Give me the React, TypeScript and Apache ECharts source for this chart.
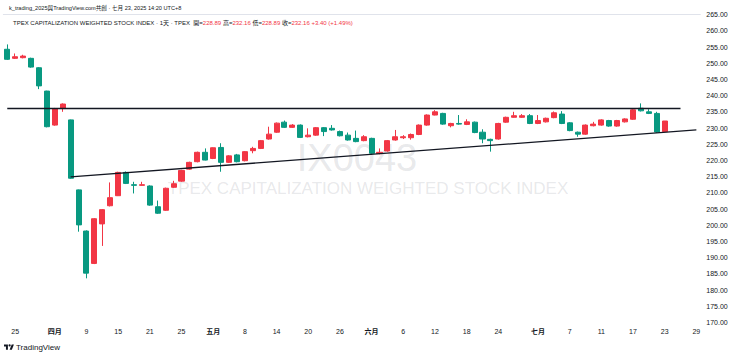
import React, { useEffect, useRef } from "react";
import * as echarts from "echarts";

const dates = [
  "2025-03-24","2025-03-25","2025-03-26","2025-03-27","2025-03-28","2025-03-31",
  "2025-04-01","2025-04-02","2025-04-07","2025-04-08","2025-04-09","2025-04-10","2025-04-11","2025-04-14","2025-04-15","2025-04-16","2025-04-17","2025-04-18","2025-04-21","2025-04-22","2025-04-23","2025-04-24","2025-04-25","2025-04-28","2025-04-29","2025-04-30",
  "2025-05-02","2025-05-05","2025-05-06","2025-05-07","2025-05-08","2025-05-09","2025-05-12","2025-05-13","2025-05-14","2025-05-15","2025-05-16","2025-05-19","2025-05-20","2025-05-21","2025-05-22","2025-05-23","2025-05-26","2025-05-27","2025-05-28","2025-05-29",
  "2025-06-02","2025-06-03","2025-06-04","2025-06-05","2025-06-06","2025-06-09","2025-06-10","2025-06-11","2025-06-12","2025-06-13","2025-06-16","2025-06-17","2025-06-18","2025-06-19","2025-06-20","2025-06-23","2025-06-24","2025-06-25","2025-06-26","2025-06-27","2025-06-30",
  "2025-07-01","2025-07-02","2025-07-03","2025-07-04","2025-07-07","2025-07-08","2025-07-09","2025-07-10","2025-07-11","2025-07-14","2025-07-15","2025-07-16","2025-07-17","2025-07-18","2025-07-21","2025-07-22","2025-07-23",
];
const futureDates = ["2025-07-24", "2025-07-25", "2025-07-28", "2025-07-29"];

const opens = [
  254.3,251.5,251.7,251.5,248.6,241.4,
  230.9,236.0,232.5,210.9,198.2,188.2,200.4,206.0,209.1,216.3,212.5,212.3,212.1,205.7,204.6,211.7,213.6,217.3,219.6,222.5,
  220.6,224.0,219.4,221.7,219.9,223.0,223.7,226.6,228.7,231.8,230.2,230.9,227.3,227.8,230.1,229.9,228.9,227.8,226.8,226.1,
  226.8,222.1,222.9,226.3,227.0,227.0,228.0,230.9,234.0,234.5,230.7,231.4,231.1,231.8,228.7,226.5,226.6,231.8,233.3,233.3,233.8,
  231.4,231.9,233.2,234.3,231.6,228.7,228.1,230.7,230.9,232.3,230.6,231.9,232.7,236.1,235.0,234.5,228.89,
];
const closes = [
  251.2,252.0,252.2,248.8,243.0,230.4,
  236.0,237.4,214.5,200.1,185.2,202.0,204.8,208.5,216.3,212.9,212.3,212.5,206.2,203.7,211.4,212.8,216.9,219.4,222.5,220.1,
  223.9,219.4,221.4,219.6,222.7,223.7,226.1,228.1,231.5,230.2,230.9,227.1,227.8,230.1,228.9,229.4,227.6,226.3,225.8,227.3,
  222.2,222.5,226.1,227.3,227.3,228.0,230.9,234.0,235.0,231.2,231.4,231.2,231.9,228.6,226.6,226.1,231.4,233.3,233.8,233.8,231.4,
  232.3,233.0,234.7,231.4,229.2,228.1,230.9,231.2,232.5,230.6,232.3,232.8,235.6,235.3,234.5,228.76,232.16,
];
const lows = [
  251.0,251.3,251.5,248.6,242.0,230.2,
  230.7,235.0,214.3,198.0,183.6,188.0,193.6,205.8,209.0,212.7,209.8,212.2,206.0,203.5,204.4,211.5,213.4,217.1,219.4,220.0,
  220.4,216.5,219.2,219.4,219.7,222.2,223.5,226.4,228.5,230.0,230.0,226.9,227.1,227.6,227.5,229.2,227.4,226.1,225.6,225.9,
  221.7,221.9,222.7,226.1,226.6,226.4,227.8,230.7,233.9,231.0,230.2,231.0,230.9,228.4,225.3,222.7,226.4,231.6,233.2,233.1,231.2,
  231.2,231.7,233.0,231.2,229.0,227.3,227.9,230.5,230.7,230.4,230.4,231.7,232.5,235.1,234.3,228.5,228.89,
];
const highs = [
  255.8,253.0,252.6,251.7,248.8,241.5,
  236.2,237.6,232.6,211.0,198.4,202.2,205.0,213.2,216.5,216.6,213.4,213.4,212.3,207.6,211.6,213.7,217.1,219.6,222.7,223.7,
  224.0,225.3,221.6,222.0,222.9,224.2,226.3,230.4,231.7,232.3,231.2,231.1,229.9,230.3,230.3,230.9,229.2,228.6,229.2,227.8,
  227.0,223.7,226.3,229.4,227.8,228.3,231.1,234.2,235.5,234.7,231.6,234.0,232.7,232.0,229.6,226.7,231.6,233.5,235.0,234.3,234.3,
  234.0,233.2,235.1,235.2,231.8,228.9,231.1,231.9,232.7,232.5,232.5,233.0,235.8,237.6,235.8,235.0,232.16,
];

const tickDates = ["2025-03-25","2025-04-01","2025-04-09","2025-04-15","2025-04-21","2025-04-25","2025-05-02","2025-05-08","2025-05-14","2025-05-20","2025-05-26","2025-06-02","2025-06-06","2025-06-12","2025-06-18","2025-06-24","2025-07-01","2025-07-07","2025-07-11","2025-07-17","2025-07-23","2025-07-29"];
const tickLabels = ["25","四月","9","15","21","25","五月","8","14","20","26","六月","6","12","18","24","七月","7","11","17","23","29"];

const resistanceDates = ["2025-03-24", "2025-07-25"];
const resistanceValues = [236.25, 236.25];
const supportDates = ["2025-04-07", "2025-07-29"];
const supportValues = [214.9, 229.4];

const yMin = 170;
const yMax = 265;
const yStep = 5;

const UP = "#F23645";
const DOWN = "#089981";
const INK = "#131722";
const FONT = "'Liberation Sans', 'Noto Sans CJK TC', sans-serif";

const logoD = "M14 22H7V11H0V4h14v18zM28 22h-8l7.5-18h8L28 22zM16 7a4 4 0 1 0 8 0a4 4 0 1 0 -8 0Z";

export default function App() {
  const ref = useRef<HTMLDivElement>(null);
  useEffect(() => {
    if (!ref.current) return;
    let logoOk = true;
    try {
      echarts.graphic.registerShape("tvlogo2", (echarts.graphic as any).extendPath(logoD, {}));
    } catch (e) {
      logoOk = false;
    }
    const chart = echarts.init(ref.current, undefined, { renderer: "svg" });
    const allDates = dates.concat(futureDates);
    const data = dates.map((d, i) => [opens[i], closes[i], lows[i], highs[i]]);
    const n = dates.length;
    const lastO = opens[n - 1], lastH = highs[n - 1], lastL = lows[n - 1], lastC = closes[n - 1];
    const chg = lastC - closes[n - 2];
    const pct = (chg / closes[n - 2]) * 100;
    const sign = chg >= 0 ? "+" : "";
    const tickMap: Record<string, string> = {};
    tickDates.forEach((d, i) => (tickMap[d] = tickLabels[i]));

    const line2 =
      "{n|TPEX CAPITALIZATION WEIGHTED STOCK INDEX · 1天 · TPEX}  " +
      `{k|開=}{v|${lastO.toFixed(2)}} {k|高=}{v|${lastH.toFixed(2)}} {k|低=}{v|${lastL.toFixed(2)}} {k|收=}{v|${lastC.toFixed(2)}} {v|${sign}${chg.toFixed(2)} (${sign}${pct.toFixed(2)}%)}`;

    const graphics: any[] = [
      {
        type: "text",
        x: 357,
        y: 158,
        z: 0,
        silent: true,
        style: { text: "IX0043", fontSize: 38, fontFamily: FONT, fill: "rgba(120,123,134,0.18)", align: "center", verticalAlign: "middle" },
      },
      {
        type: "text",
        x: 368,
        y: 188,
        z: 0,
        silent: true,
        style: { text: "TPEX CAPITALIZATION WEIGHTED STOCK INDEX", fontSize: 17, fontFamily: FONT, fill: "rgba(120,123,134,0.18)", align: "center", verticalAlign: "middle" },
      },
      {
        type: "text",
        x: 16,
        y: 347,
        style: { text: "TradingView", fontSize: 8, fontFamily: FONT, fill: INK, align: "left", verticalAlign: "middle" },
      },
    ];
    if (logoOk) {
      graphics.push({ type: "tvlogo2", x: 4, y: 343.5, scaleX: 0.28, scaleY: 0.28, style: { fill: INK } });
    }

    const plain = { color: INK, fontFamily: FONT, fontWeight: "normal" };
    chart.setOption({
      animation: false,
      textStyle: { fontFamily: FONT },
      title: [
        {
          text: "k_trading_2025與TradingView.com共創 · 七月 23, 2025 14:20 UTC+8",
          left: 4,
          top: 0,
          textStyle: { fontSize: 5.6, color: INK, fontWeight: "normal", fontFamily: FONT },
        },
        {
          text: line2,
          left: 8,
          top: 15,
          textStyle: {
            fontSize: 6,
            fontWeight: "normal",
            fontFamily: FONT,
            rich: {
              n: { ...plain, fontSize: 6 },
              k: { ...plain, fontSize: 6 },
              v: { ...plain, fontSize: 6, color: UP },
            },
          },
        },
      ],
      grid: { left: 3.3, right: 39.7, top: 14.6, bottom: 32.6 },
      xAxis: [
        {
          type: "category",
          data: allDates,
          boundaryGap: true,
          axisLine: { show: false },
          axisTick: { show: false },
          splitLine: { show: false },
          axisLabel: {
            interval: (i: number, v: string) => tickMap[v] !== undefined,
            formatter: (v: string) => {
              const t = tickMap[v];
              if (t === undefined) return "";
              return t.indexOf("月") >= 0 ? `{m|${t}}` : t;
            },
            fontSize: 7,
            color: INK,
            margin: 6,
            rich: { m: { fontSize: 7, fontWeight: "bold", color: INK, fontFamily: FONT } },
          },
        },
        {
          type: "category",
          data: allDates,
          position: "top",
          boundaryGap: true,
          axisLine: { show: true, lineStyle: { color: "#e0e3eb", width: 1 } },
          axisTick: { show: false },
          axisLabel: { show: false },
        },
      ],
      yAxis: {
        type: "value",
        position: "right",
        min: yMin,
        max: yMax,
        interval: yStep,
        axisLine: { show: false },
        axisTick: { show: false },
        splitLine: { show: false },
        axisLabel: { formatter: (v: number) => v.toFixed(2), fontSize: 7, color: INK, margin: 6 },
      },
      series: [
        {
          type: "candlestick",
          data,
          barWidth: "70%",
          z: 3,
          itemStyle: { color: UP, color0: DOWN, borderColor: UP, borderColor0: DOWN, borderWidth: 1 },
          markLine: {
            silent: true,
            symbol: ["none", "none"],
            label: { show: false },
            lineStyle: { color: INK, width: 1.3, type: "solid" },
            emphasis: { disabled: true },
            data: [
              [
                { coord: [resistanceDates[0], resistanceValues[0]] },
                { coord: [resistanceDates[1], resistanceValues[1]] },
              ],
              [
                { coord: [supportDates[0], supportValues[0]] },
                { coord: [supportDates[1], supportValues[1]] },
              ],
            ],
          },
        },
      ],
      graphic: graphics,
    });
    return () => chart.dispose();
  }, []);
  return <div ref={ref} style={{ position: "absolute", left: 0, top: 0, width: 740, height: 355, background: "#fff" }} />;
}
